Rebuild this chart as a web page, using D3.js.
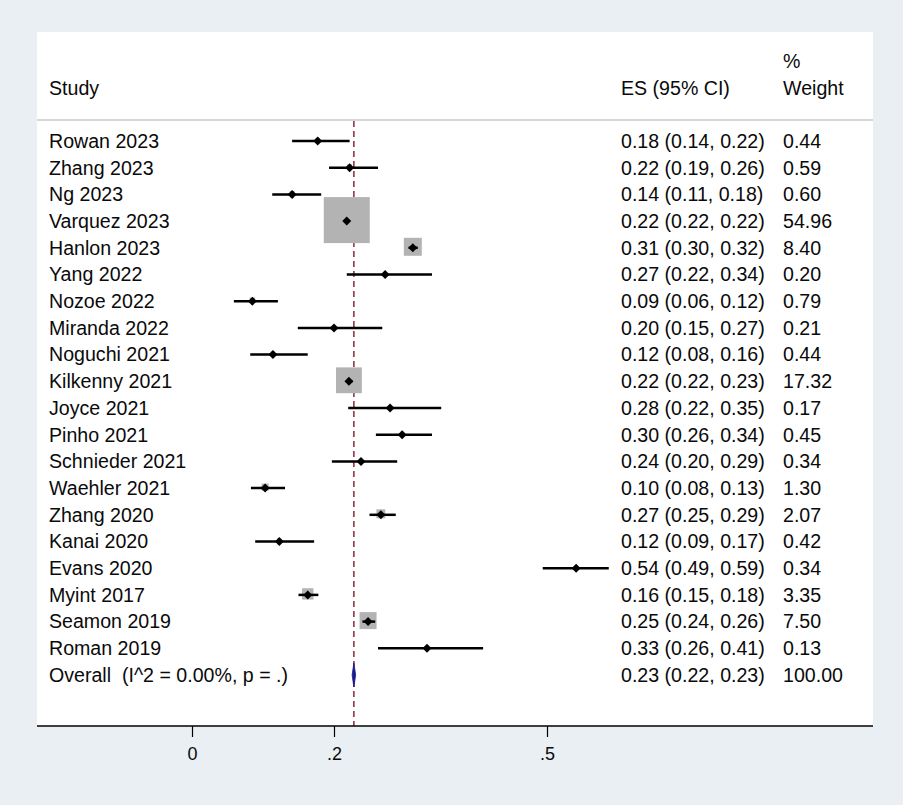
<!DOCTYPE html>
<html>
<head>
<meta charset="utf-8">
<script src="https://cdn.jsdelivr.net/npm/d3@7"></script>
<style>
  html, body { margin: 0; padding: 0; background: #e9eff2; }
  svg { display: block; }
  text { font-family: "Liberation Sans", Arial, Helvetica, sans-serif; fill: #0a0a0a; }
</style>
</head>
<body>
<svg id="chart" width="903" height="805"></svg>
<script>
// ---------- data ----------
const studies = ["Rowan 2023","Zhang 2023","Ng 2023","Varquez 2023","Hanlon 2023","Yang 2022","Nozoe 2022","Miranda 2022","Noguchi 2021","Kilkenny 2021","Joyce 2021","Pinho 2021","Schnieder 2021","Waehler 2021","Zhang 2020","Kanai 2020","Evans 2020","Myint 2017","Seamon 2019","Roman 2019"];
const es    = [0.177,0.222,0.141,0.218,0.311,0.272,0.085,0.200,0.114,0.221,0.279,0.296,0.238,0.103,0.266,0.123,0.541,0.163,0.248,0.331];
const lo    = [0.141,0.193,0.113,0.215,0.305,0.218,0.059,0.149,0.082,0.218,0.220,0.259,0.197,0.083,0.250,0.089,0.494,0.150,0.240,0.262];
const hi    = [0.222,0.262,0.182,0.221,0.318,0.338,0.121,0.268,0.163,0.226,0.351,0.338,0.289,0.131,0.287,0.172,0.587,0.178,0.258,0.410];
const esText = ["0.18 (0.14, 0.22)","0.22 (0.19, 0.26)","0.14 (0.11, 0.18)","0.22 (0.22, 0.22)","0.31 (0.30, 0.32)","0.27 (0.22, 0.34)","0.09 (0.06, 0.12)","0.20 (0.15, 0.27)","0.12 (0.08, 0.16)","0.22 (0.22, 0.23)","0.28 (0.22, 0.35)","0.30 (0.26, 0.34)","0.24 (0.20, 0.29)","0.10 (0.08, 0.13)","0.27 (0.25, 0.29)","0.12 (0.09, 0.17)","0.54 (0.49, 0.59)","0.16 (0.15, 0.18)","0.25 (0.24, 0.26)","0.33 (0.26, 0.41)"];
const weights = [0.44,0.59,0.60,54.96,8.40,0.20,0.79,0.21,0.44,17.32,0.17,0.45,0.34,1.30,2.07,0.42,0.34,3.35,7.50,0.13];
const weightText = ["0.44","0.59","0.60","54.96","8.40","0.20","0.79","0.21","0.44","17.32","0.17","0.45","0.34","1.30","2.07","0.42","0.34","3.35","7.50","0.13"];
const overallLabel = "Overall\u00a0\u00a0(I^2 = 0.00%, p = .)";
const overallEs = 0.228, overallLo = 0.2255, overallHi = 0.2305;
const overallText = "0.23 (0.22, 0.23)";
const overallWeight = "100.00";
const tickValues = [0, 0.2, 0.5];
const tickLabels = ["0", ".2", ".5"];

// ---------- layout ----------
const svg = d3.select("#chart");
const panel = {x0: 37, x1: 873, y0: 32, y1: 726};
const FS = 19.6;

svg.append("rect").attr("x", panel.x0).attr("y", panel.y0)
  .attr("width", panel.x1 - panel.x0).attr("height", panel.y1 - panel.y0)
  .attr("fill", "#ffffff");

const x = d3.scaleLinear().domain([0, 0.5]).range([192, 547]);
const rows = d3.range(studies.length + 1);
const y = d3.scalePoint().domain(rows).range([141, 675]);
const boxSize = d3.scaleSqrt().domain([0, 54.96]).range([0, 46]);

// header
const colStudy = 49, colES = 621, colW = 783;
svg.append("text").attr("x", colStudy).attr("y", 88).attr("dy", "0.35em").attr("font-size", FS).text("Study");
svg.append("text").attr("x", colES).attr("y", 88).attr("dy", "0.35em").attr("font-size", FS).text("ES (95% CI)");
svg.append("text").attr("x", colW).attr("y", 61).attr("dy", "0.35em").attr("font-size", FS).text("%");
svg.append("text").attr("x", colW).attr("y", 88).attr("dy", "0.35em").attr("font-size", FS).text("Weight");
svg.append("line").attr("x1", panel.x0).attr("x2", panel.x1).attr("y1", 120).attr("y2", 120)
  .attr("stroke", "#c8c8c8").attr("stroke-width", 1.5);

// dashed overall line
svg.append("line").attr("x1", x(overallEs)).attr("x2", x(overallEs))
  .attr("y1", 121).attr("y2", panel.y1)
  .attr("stroke", "#8b2a3a").attr("stroke-width", 1.5).attr("stroke-dasharray", "6,4");

// study rows
const g = svg.append("g");
studies.forEach((s, i) => {
  const cy = y(i);
  const sz = boxSize(weights[i]);
  g.append("rect").attr("x", x(es[i]) - sz / 2).attr("y", cy - sz / 2 - 1)
    .attr("width", sz).attr("height", sz).attr("fill", "#b3b3b3");
  g.append("line").attr("x1", x(lo[i])).attr("x2", x(hi[i])).attr("y1", cy).attr("y2", cy)
    .attr("stroke", "#000").attr("stroke-width", 2.5);
  const px = x(es[i]);
  g.append("path").attr("d", `M${px-4.5},${cy} L${px},${cy-4.5} L${px+4.5},${cy} L${px},${cy+4.5} Z`)
    .attr("fill", "#000");
  g.append("text").attr("x", colStudy).attr("y", cy).attr("dy", "0.35em").attr("font-size", FS).text(s);
  g.append("text").attr("x", colES).attr("y", cy).attr("dy", "0.35em").attr("font-size", FS).text(esText[i]);
  g.append("text").attr("x", colW).attr("y", cy).attr("dy", "0.35em").attr("font-size", FS).text(weightText[i]);
});

// overall
const oy = y(studies.length);
svg.append("path")
  .attr("d", `M${x(overallLo)},${oy} L${x(overallEs)},${oy-12} L${x(overallHi)},${oy} L${x(overallEs)},${oy+12} Z`)
  .attr("fill", "#1a1a8c").attr("stroke", "#1a1a8c").attr("stroke-width", 0.8);
svg.append("text").attr("x", colStudy).attr("y", oy).attr("dy", "0.35em").attr("font-size", FS).text(overallLabel);
svg.append("text").attr("x", colES).attr("y", oy).attr("dy", "0.35em").attr("font-size", FS).text(overallText);
svg.append("text").attr("x", colW).attr("y", oy).attr("dy", "0.35em").attr("font-size", FS).text(overallWeight);

// axis
svg.append("line").attr("x1", panel.x0).attr("x2", panel.x1).attr("y1", panel.y1).attr("y2", panel.y1)
  .attr("stroke", "#000").attr("stroke-width", 1.5);
const axis = d3.axisBottom(x).tickValues(tickValues)
  .tickFormat((d, i) => tickLabels[i]).tickSize(11).tickPadding(10);
const ag = svg.append("g").attr("transform", `translate(0,${panel.y1})`).call(axis);
ag.select(".domain").remove();
ag.selectAll(".tick line").attr("stroke", "#000").attr("stroke-width", 1.2);
ag.selectAll(".tick text").attr("font-size", 18).attr("fill", "#0a0a0a")
  .attr("font-family", '"Liberation Sans", Arial, sans-serif');
</script>
</body>
</html>
